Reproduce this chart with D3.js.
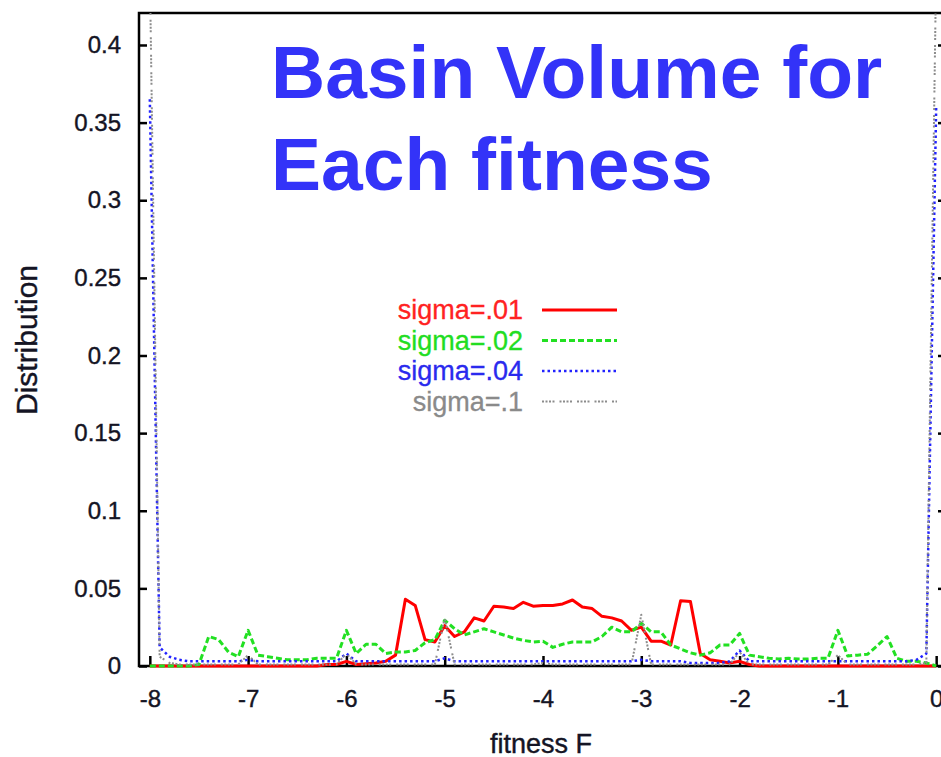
<!DOCTYPE html>
<html>
<head>
<meta charset="utf-8">
<script src="https://cdn.jsdelivr.net/npm/d3@7"></script>
<style>
body { margin: 0; background: #fff; }
</style>
</head>
<body>
<div id="svgcontainer"></div>
<script>
var width = 941;
var height = 757;

// fitness values, -8 to 0 in steps of 0.1
var fitness = d3.range(81).map(function(i) { return Math.round((-8 + i * 0.1) * 10) / 10; });

var sigma01 = [0, 0, 0, 0, 0, 0, 0, 0, 0, 0,
   0, 0, 0, 0, 0, 0, 0, 0, 0.001, 0.001,
   0.003, 0.001, 0.0015, 0.002, 0.003, 0.007, 0.043, 0.039, 0.017, 0.0155,
   0.026, 0.019, 0.022, 0.031, 0.029, 0.0385, 0.038, 0.037, 0.041, 0.0385,
   0.039, 0.039, 0.040, 0.0425, 0.038, 0.037, 0.032, 0.031, 0.029, 0.023,
   0.025, 0.016, 0.016, 0.0135, 0.042, 0.0415, 0.008, 0.004, 0.003, 0.002,
   0.003, 0.001, 0, 0, 0, 0, 0, 0, 0, 0,
   0, 0, 0, 0, 0, 0, 0, 0, 0, 0, 0];

var sigma02 = [0, 0, 0, 0, 0, 0.001, 0.019, 0.017, 0.009, 0.006,
   0.023, 0.007, 0.006, 0.005, 0.004, 0.004, 0.004, 0.005, 0.005, 0.005,
   0.023, 0.008, 0.014, 0.014, 0.008, 0.009, 0.009, 0.010, 0.015, 0.017,
   0.0295, 0.024, 0.020, 0.022, 0.024, 0.022, 0.020, 0.018, 0.0165, 0.0155,
   0.016, 0.012, 0.014, 0.0155, 0.0155, 0.0155, 0.019, 0.025, 0.022, 0.022,
   0.0275, 0.022, 0.022, 0.0135, 0.011, 0.0085, 0.007, 0.0085, 0.0135, 0.0135,
   0.021, 0.007, 0.006, 0.005, 0.0045, 0.005, 0.0045, 0.0045, 0.005, 0.005,
   0.023, 0.0065, 0.007, 0.0075, 0.013, 0.019, 0.005, 0.003, 0.003, 0.002, 0];

var sigma04 = [0.365, 0.012, 0.006, 0.004, 0.003, 0.003, 0.003, 0.003, 0.003, 0.003,
   0.004, 0.003, 0.003, 0.003, 0.003, 0.003, 0.003, 0.003, 0.003, 0.003,
   0.008, 0.003, 0.003, 0.003, 0.003, 0.003, 0.003, 0.003, 0.003, 0.003,
   0.005, 0.003, 0.003, 0.003, 0.003, 0.003, 0.003, 0.003, 0.003, 0.003,
   0.003, 0.003, 0.003, 0.003, 0.003, 0.003, 0.003, 0.003, 0.003, 0.003,
   0.004, 0.003, 0.003, 0.003, 0.003, 0.002, 0.002, 0.002, 0.002, 0.003,
   0.010, 0.003, 0.003, 0.003, 0.003, 0.003, 0.003, 0.003, 0.003, 0.003,
   0.003, 0.003, 0.003, 0.003, 0.003, 0.003, 0.003, 0.003, 0.004, 0.008, 0.36];

var sigma1 = [0.45, 0.006, 0.002, 0.001, 0.001, 0.001, 0.001, 0.001, 0.001, 0.001,
   0.007, 0.001, 0.001, 0.001, 0.001, 0.001, 0.001, 0.001, 0.001, 0.001,
   0.008, 0.001, 0.001, 0.001, 0.001, 0.001, 0.001, 0.001, 0.001, 0.001,
   0.031, 0.001, 0.001, 0.001, 0.001, 0.001, 0.001, 0.001, 0.001, 0.001,
   0.002, 0.001, 0.001, 0.001, 0.001, 0.001, 0.001, 0.001, 0.001, 0.001,
   0.033, 0.001, 0.001, 0.001, 0.001, 0.001, 0.001, 0.001, 0.001, 0.001,
   0.009, 0.001, 0.001, 0.001, 0.001, 0.001, 0.001, 0.001, 0.001, 0.001,
   0.007, 0.001, 0.001, 0.001, 0.001, 0.001, 0.001, 0.001, 0.001, 0.002, 0.45];

var seriesNames = ["sigma=.01", "sigma=.02", "sigma=.04", "sigma=.1"];
var seriesValues = [sigma01, sigma02, sigma04, sigma1];
var lineColors = ["#ff0000", "#22e022", "#2222ff", "#8c8c8c"];
var textColors = ["#ff2222", "#22dd22", "#2a2aee", "#8a8a8a"];
var dashes = [null, "6,3", "2.5,3", "2,1.5,2,1.5,2,1.5,2,5"];
var lineWidths = [3, 3, 2.5, 2];

var xTicks = [-8, -7, -6, -5, -4, -3, -2, -1, 0];
var xTickLabels = ["-8", "-7", "-6", "-5", "-4", "-3", "-2", "-1", "0"];
var yTicks = [0, 0.05, 0.1, 0.15, 0.2, 0.25, 0.3, 0.35, 0.4];
var yTickLabels = ["0", "0.05", "0.1", "0.15", "0.2", "0.25", "0.3", "0.35", "0.4"];

var titleLines = ["Basin Volume for", "Each fitness"];

var plotLeft = 139, plotRight = 946, plotTop = 13, plotBottom = 666;

var x = d3.scaleLinear().domain([-8.11, 0.1]).range([plotLeft, plotRight]);
var y = d3.scaleLinear().domain([0, 0.4206]).range([plotBottom, plotTop]);

var font = "'Liberation Sans', Arial, sans-serif";
var ink = "#141424";

var svg = d3.select("#svgcontainer")
   .append("svg")
   .attr("width", width)
   .attr("height", height)
   .style("display", "block");

svg.append("rect")
   .attr("width", width)
   .attr("height", height)
   .attr("fill", "#fff");

svg.append("clipPath")
   .attr("id", "plotclip")
   .append("rect")
   .attr("x", plotLeft)
   .attr("y", plotTop)
   .attr("width", plotRight - plotLeft)
   .attr("height", plotBottom - plotTop + 3);

// frame
svg.append("path")
   .attr("d", "M" + plotRight + "," + plotTop + "H" + plotLeft + "V" + plotBottom + "H" + plotRight)
   .attr("fill", "none")
   .attr("stroke", "#000")
   .attr("stroke-width", 2.5);

// axes (ticks point inward)
svg.append("g")
   .attr("transform", "translate(" + plotLeft + ",0)")
   .call(d3.axisLeft(y).tickValues(yTicks).tickSize(-8).tickPadding(18)
      .tickFormat(function(d, i) { return yTickLabels[i]; }));

svg.append("g")
   .attr("transform", "translate(" + plotRight + ",0)")
   .call(d3.axisRight(y).tickValues(yTicks).tickSize(-8).tickFormat(""));

svg.append("g")
   .attr("transform", "translate(0," + plotBottom + ")")
   .call(d3.axisBottom(x).tickValues(xTicks).tickSize(-10).tickPadding(24)
      .tickFormat(function(d, i) { return xTickLabels[i]; }));

svg.selectAll(".domain").remove();
svg.selectAll(".tick line")
   .attr("stroke", "#000")
   .attr("stroke-width", 2.5);
svg.selectAll(".tick text")
   .attr("fill", ink)
   .attr("stroke", ink)
   .attr("stroke-width", 0.4)
   .attr("font-size", "24px")
   .attr("font-family", font);

// series
var line = d3.line()
   .x(function(d, i) { return x(fitness[i]); })
   .y(function(d) { return y(d); });

var plot = svg.append("g")
   .attr("clip-path", "url(#plotclip)");

plot.selectAll("path")
   .data(seriesValues)
   .enter()
   .append("path")
   .attr("d", function(d) { return line(d); })
   .attr("fill", "none")
   .attr("stroke", function(d, i) { return lineColors[i]; })
   .attr("stroke-width", function(d, i) { return lineWidths[i]; })
   .attr("stroke-dasharray", function(d, i) { return dashes[i]; })
   .attr("stroke-linejoin", "round");

// legend
var legend = svg.selectAll(".legend")
   .data(seriesNames)
   .enter()
   .append("g")
   .attr("class", "legend")
   .attr("transform", function(d, i) {
      return "translate(0," + (310 + i * 30.5) + ")";
   });

legend.append("text")
   .attr("x", 523)
   .attr("y", 0)
   .attr("dy", "0.34em")
   .attr("text-anchor", "end")
   .attr("font-size", "27px")
   .attr("font-family", font)
   .attr("fill", function(d, i) { return textColors[i]; })
   .attr("stroke", function(d, i) { return textColors[i]; })
   .attr("stroke-width", 0.3)
   .text(function(d) { return d; });

legend.append("line")
   .attr("x1", 542)
   .attr("x2", 617)
   .attr("y1", 0)
   .attr("y2", 0)
   .attr("stroke", function(d, i) { return lineColors[i]; })
   .attr("stroke-width", function(d, i) { return lineWidths[i]; })
   .attr("stroke-dasharray", function(d, i) { return dashes[i]; });

// axis labels
svg.append("text")
   .attr("transform", "translate(37,340) rotate(-90)")
   .attr("text-anchor", "middle")
   .attr("font-size", "30px")
   .attr("font-family", font)
   .attr("fill", ink)
   .attr("stroke", ink)
   .attr("stroke-width", 0.4)
   .text("Distribution");

svg.append("text")
   .attr("x", 541)
   .attr("y", 753)
   .attr("text-anchor", "middle")
   .attr("font-size", "27px")
   .attr("font-family", font)
   .attr("fill", ink)
   .attr("stroke", ink)
   .attr("stroke-width", 0.4)
   .text("fitness F");

// title
svg.selectAll(".title")
   .data(titleLines)
   .enter()
   .append("text")
   .attr("class", "title")
   .attr("x", 271)
   .attr("y", function(d, i) { return 98 + i * 92; })
   .attr("font-size", "75px")
   .attr("font-weight", "bold")
   .attr("font-family", font)
   .attr("fill", "#3333f8")
   .text(function(d) { return d; });
</script>
</body>
</html>
